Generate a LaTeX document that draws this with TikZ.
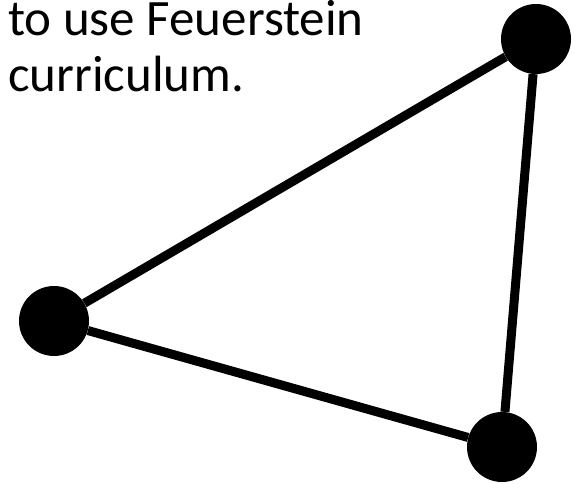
\documentclass[tikz,border=0pt]{standalone}
\usepackage{fontspec}
\setmainfont{Carlito}
\usepackage{tikz}
\usetikzlibrary{positioning}

\begin{document}
\begin{tikzpicture}[x=1pt, y=-1pt,
  dot/.style={circle, fill=black, minimum size=70pt, inner sep=0pt},
  link/.style={line width=9pt, black},
  caption/.style={align=left, inner sep=0pt, font=\fontsize{51}{56}\selectfont}]

  \useasboundingbox (0,0) rectangle (586,484);

  % Nodes
  \node[caption, anchor=base west] (Note) at (8,92) {to use Feuerstein\\curriculum.};

  \node[dot] (Top) at (536,39) {};
  \node[dot] (Left) at (54,321) {};
  \node[dot] (Bottom) at (502,447) {};

  % Edges
  \draw[link] (Left) -- (Top);
  \draw[link] (Top) -- (Bottom);
  \draw[link] (Bottom) -- (Left);

\end{tikzpicture}
\end{document}
